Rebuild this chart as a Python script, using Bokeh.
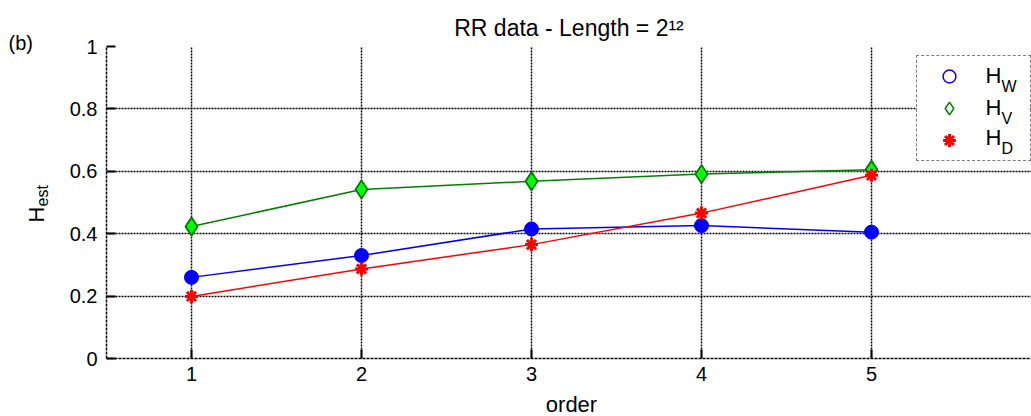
import numpy as np
from bokeh.plotting import figure
from bokeh.models import (Range1d, LinearAxis, FixedTicker, Label, Legend, LegendItem,
                          ColumnDataSource, BoxAnnotation)
from bokeh.embed import file_html
from bokeh.resources import INLINE

# ---- data ----
orders = [1, 2, 3, 4, 5]
h_w = [0.26, 0.33, 0.415, 0.426, 0.405]
h_v = [0.423, 0.542, 0.568, 0.591, 0.605]
h_d = [0.199, 0.287, 0.365, 0.466, 0.587]
x_ticks = [1, 2, 3, 4, 5]
y_ticks = [0, 0.2, 0.4, 0.6, 0.8, 1.0]
title_text = "RR data - Length = 2\u00b9\u00b2"
x_label = "order"
y_label_main, y_label_sub = "H", "est"
tag_text = "(b)"
legend_main = ["H", "H", "H"]
legend_sub = ["W", "V", "D"]

FONT = "Liberation Sans"
W, H = 1031, 416
FL, FT, FB = 106, 46, 358          # frame left / top / bottom (canvas px)
PX_PER_X = 170.0
X0, X1 = 0.5, 0.5 + (W - FL) / PX_PER_X
Y0, Y1 = 0.0, 1.0
BASE_FIX = 0.38                    # label baseline correction (fraction of font size)
LEG_L, LEG_R, LEG_T, LEG_B = 916, 1029, 57, 161   # legend box (canvas px)

def dx(cx):  # canvas px -> data x (for placing text outside the frame)
    return X0 + (cx - FL) / PX_PER_X

def dy(cy):
    return Y0 + (FB - cy) / (FB - FT) * (Y1 - Y0)

p = figure(width=W, height=H, output_backend="svg", toolbar_location=None,
           x_range=Range1d(X0, X1), y_range=Range1d(Y0, Y1),
           min_border_left=FL, min_border_right=0, min_border_top=FT,
           min_border_bottom=H - FB, x_axis_location=None, y_axis_location=None)
p.outline_line_color = None
p.background_fill_color = "white"
p.border_fill_color = "white"

p.title.text = title_text
p.title.text_font = FONT
p.title.text_font_size = "23px"
p.title.text_font_style = "normal"
p.title.text_color = "black"
p.title.align = "center"
p.title.offset = 11
p.title.standoff = 12

def style_axis(ax):
    ax.axis_line_color = "black"
    ax.axis_line_width = 1.5
    ax.axis_line_dash = "3 1"
    ax.major_tick_in = 9
    ax.major_tick_out = 0
    ax.major_tick_line_color = "black"
    ax.major_tick_line_width = 2
    ax.minor_tick_line_color = None
    ax.major_label_text_font = FONT
    ax.major_label_text_font_size = "20px"
    ax.major_label_text_color = "black"

xb = LinearAxis(ticker=FixedTicker(ticks=x_ticks))
style_axis(xb)
xb.major_label_standoff = 8
p.add_layout(xb, "below")

yl = LinearAxis(ticker=FixedTicker(ticks=y_ticks))
style_axis(yl)
yl.major_label_standoff = 9
yl.major_label_overrides = {1.0: "1", 0: "0"}
p.add_layout(yl, "left")

p.xgrid.ticker = FixedTicker(ticks=x_ticks)
p.ygrid.ticker = FixedTicker(ticks=y_ticks)
for g in (p.xgrid, p.ygrid):
    g.grid_line_color = "black"
    g.grid_line_width = 1.5
    g.grid_line_dash = "2 1"
    g.grid_line_alpha = 1.0

# white backing for the legend (covers grid lines, sits under the data)
p.add_layout(BoxAnnotation(left=dx(LEG_L), right=dx(LEG_R), top=dy(LEG_T), bottom=dy(LEG_B),
                           fill_color="white", fill_alpha=1.0, line_color=None,
                           level="underlay"))

src = ColumnDataSource(dict(x=orders, hw=h_w, hv=h_v, hd=h_d))

p.line("x", "hw", source=src, line_color="#0000ff", line_width=1.5)
p.line("x", "hv", source=src, line_color="#008000", line_width=1.5)
p.line("x", "hd", source=src, line_color="#ff0000", line_width=1.5)
p.scatter("x", "hw", source=src, marker="circle", size=14, fill_color="#0000ff", line_color="#0000ff")
p.scatter("x", "hv", source=src, marker="diamond", size=18, fill_color="#00ff00", line_color="#008000", line_width=1.5)
p.scatter("x", "hd", source=src, marker="circle", size=6, fill_color="#ff0000", line_color="#ff0000")
# outline markers (drawn over the filled ones; used as the legend symbols)
lg_w = p.scatter("x", "hw", source=src, marker="circle", size=12,
                 fill_color=None, line_color="#0000ff", line_width=1.5)
lg_v = p.scatter("x", "hv", source=src, marker="diamond", size=18,
                 fill_color=None, line_color="#008000", line_width=1.5)
lg_d = p.scatter("x", "hd", source=src, marker="asterisk", size=13,
                 line_color="#ff0000", line_width=3)

legend = Legend(items=[LegendItem(label=" ", renderers=[r]) for r in (lg_w, lg_v, lg_d)],
                location=(LEG_L - FL, FB - LEG_B), orientation="vertical",
                glyph_width=56, glyph_height=32, label_height=32, label_width=44,
                label_standoff=5, spacing=0, padding=4, margin=0,
                border_line_color="black", border_line_width=1.5, border_line_dash="2 1",
                background_fill_alpha=0.0)
p.add_layout(legend)

# legend texts (inside the frame)
for i, (m, s) in enumerate(zip(legend_main, legend_sub)):
    base = [83, 115, 145][i]
    p.add_layout(Label(x=985 - FL, y=FB - (base + 4), x_units="screen", y_units="screen",
                       text=m, text_font=FONT, text_font_size="22px", text_color="black",
                       level="overlay"))
    p.add_layout(Label(x=1001 - FL, y=FB - (base + 11), x_units="screen", y_units="screen",
                       text=s, text_font=FONT, text_font_size="16px", text_color="black",
                       level="overlay"))

# texts outside the frame: placed in side panels, positioned in data units
def side_label(side, text, cx, cy, size, align="left", rotated=False):
    if rotated:
        cx = cx - BASE_FIX * size
    else:
        cy = cy - BASE_FIX * size
    p.add_layout(Label(x=dx(cx), y=dy(cy), text=text, text_font=FONT,
                       text_font_size=f"{size}px", text_color="black",
                       text_align=align, text_baseline="alphabetic",
                       angle=np.pi / 2 if rotated else 0.0), side)

side_label("left", tag_text, 8, 50, 20)
side_label("left", y_label_main, 44, 222, 22, rotated=True)
side_label("left", y_label_sub, 48, 206, 16, rotated=True)
side_label("below", x_label, 571, 412, 22, align="center")

open("out.html", "w").write(file_html(p, INLINE))
